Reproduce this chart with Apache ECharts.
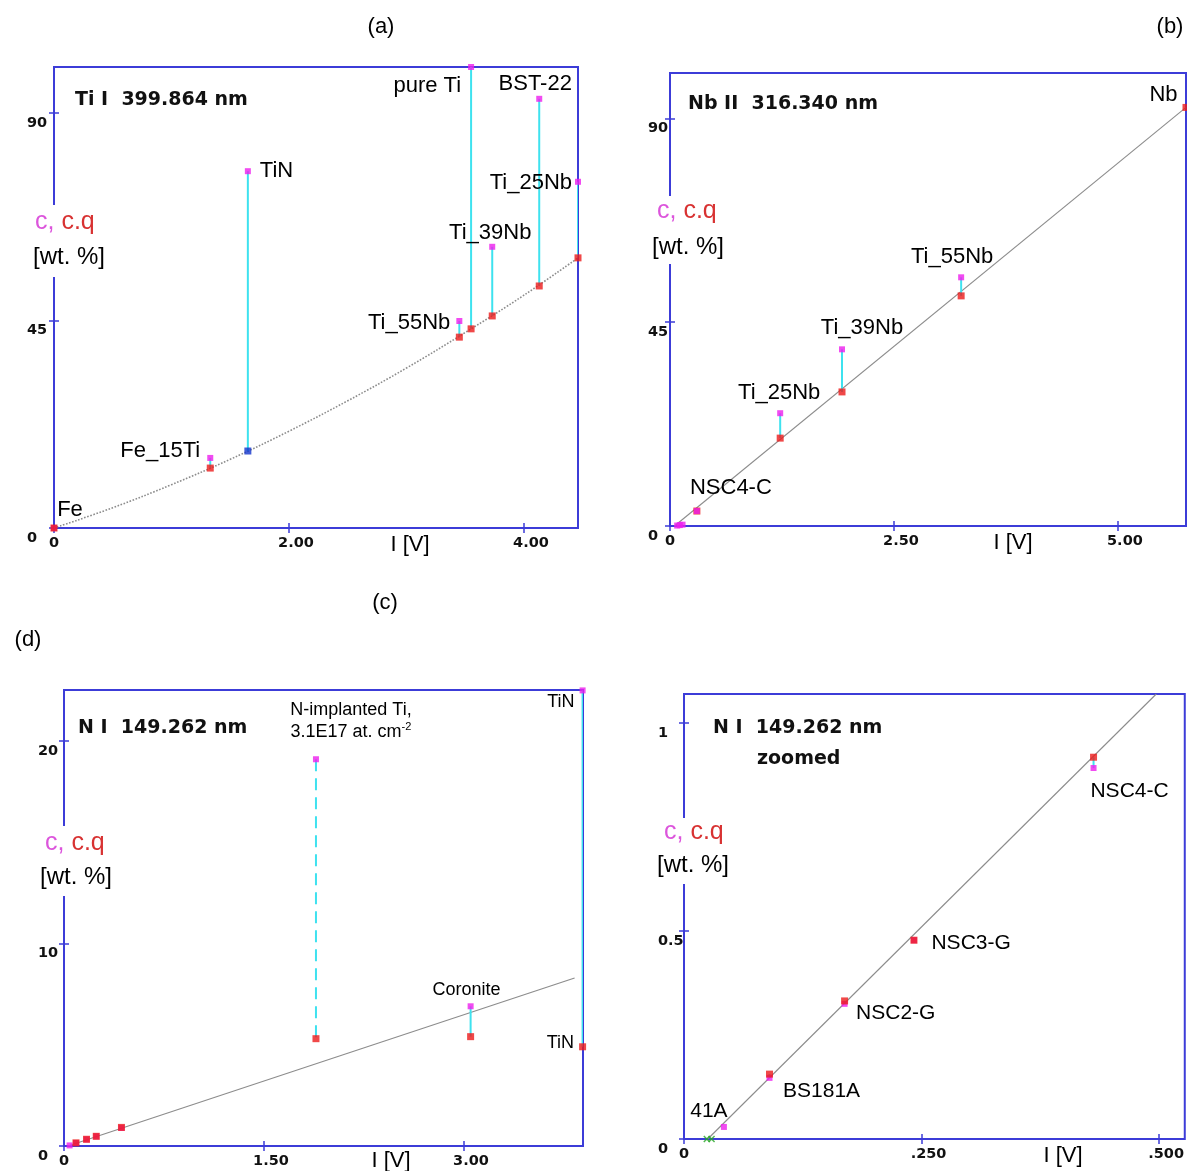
<!DOCTYPE html>
<html>
<head>
<meta charset="utf-8">
<script src="https://cdn.jsdelivr.net/npm/echarts@6/dist/echarts.min.js"></script>
<style>
  html, body { margin: 0; padding: 0; background: #fff; }
  #chart { width: 1187px; height: 1171px; }
</style>
</head>
<body>
<div id="chart"></div>
<script>
// ---- (a) Ti I 399.864 nm ----
const tiSamples    = ['Fe', 'Fe_15Ti', 'TiN', 'Ti_55Nb', 'pure Ti', 'Ti_39Nb', 'BST-22', 'Ti_25Nb'];
const tiIntensity  = [0, 1.33, 1.65, 3.45, 3.55, 3.73, 4.13, 4.46];
const tiCertified  = [0, 15.2, 77.4, 44.9, 100, 61.0, 93.1, 75.1];
const tiCalculated = [0, 13.0, 16.7, 41.4, 43.2, 46.0, 52.5, 58.6];
const tiExcluded   = ['TiN'];
const tiCurveI     = [0, 0.5, 1.0, 1.5, 2.0, 2.5, 3.0, 3.5, 4.0, 4.46];
const tiCurveC     = [0, 4.4, 9.4, 14.9, 21.0, 27.6, 34.7, 42.4, 50.5, 58.6];
const tiXTicks     = [0, 2, 4];
const tiYTicks     = [0, 45, 90];

// ---- (b) Nb II 316.340 nm ----
const nbSamples    = ['NSC4-C', 'Ti_25Nb', 'Ti_39Nb', 'Ti_55Nb', 'Nb'];
const nbIntensity  = [0.30, 1.23, 1.92, 3.25, 5.76];
const nbCertified  = [3.3, 24.9, 39.0, 54.9, null];
const nbCalculated = [3.3, 19.4, 29.6, 50.8, 92.4];
const nbTraceI     = [0.08, 0.11, 0.14];
const nbTraceC     = [0.1, 0.2, 0.3];
const nbLineI      = [0.05, 5.76];
const nbLineC      = [0, 92.4];
const nbXTicks     = [0, 2.5, 5];
const nbYTicks     = [0, 45, 90];

// ---- (c) N I 149.262 nm, (d) same line zoomed ----
const nSamples     = ['41A', 'BS181A', 'NSC2-G', 'NSC3-G', 'NSC4-C', 'N-implanted Ti', 'Coronite', 'TiN'];
const nIntensity   = [0.042, 0.090, 0.169, 0.242, 0.431, 1.89, 3.05, 3.89];
const nCertified   = [0.029, 0.147, 0.325, 0.478, 0.892, 19.1, 6.9, 22.5];
const nCalculated  = [null, 0.156, 0.332, 0.478, 0.918, 5.3, 5.4, 4.9];
const nDashed      = ['N-implanted Ti'];
const nLineI       = [0.03, 3.83];
const nLineC       = [0, 8.3];
const nXTicks      = [0, 1.5, 3];
const nYTicks      = [0, 10, 20];
const nzCount      = 5;             // standards inside the zoomed window
const nzBlankI     = [0.024, 0.029];
const nzBlankC     = [0, 0];
const nzLineI      = [0.025, 0.497];
const nzLineC      = [0, 1.07];
const nzXTicks     = [0, 0.25, 0.5];
const nzYTicks     = [0, 0.5, 1];

// label placement: [sample, anchor, position, dx, dy]
const tiLabels = [
  ['Fe', 'cq', 'top', 16, 1],
  ['Fe_15Ti', 'c', 'left', -2, -7],
  ['TiN', 'c', 'right', 4, 0],
  ['Ti_55Nb', 'c', 'left', -1, 2],
  ['pure Ti', 'c', 'left', -2, 19],
  ['Ti_39Nb', 'c', 'top', -2, 5],
  ['BST-22', 'c', 'top', -4, 4],
  ['Ti_25Nb', 'c', 'left', 2, 1]
];
const nbLabels = [
  ['NSC4-C', 'c', 'top', 34, -4],
  ['Ti_25Nb', 'c', 'top', -1, -1],
  ['Ti_39Nb', 'c', 'top', 20, -2],
  ['Ti_55Nb', 'c', 'top', -9, -1],
  ['Nb', 'cq', 'left', 0, -12]
];
const nLabels = [
  ['N-implanted Ti', 'c', 'top', 35, -8],
  ['Coronite', 'c', 'top', -4, 1],
  ['TiN', 'c', 'left', 0, 12],
  ['TiN', 'cq', 'left', 0, -4]
];
const nzLabels = [
  ['41A', 'c', 'top', -15, 3],
  ['BS181A', 'cq', 'right', 5, 17],
  ['NSC2-G', 'cq', 'right', 3, 12],
  ['NSC3-G', 'cq', 'right', 9, 3],
  ['NSC4-C', 'c', 'bottom', 36, 5]
];
const labelText = {
  'N-implanted Ti': '{a|N-implanted Ti,}\n{a|3.1E17 at. cm}{s|-2}'
};

const BLUE = '#3c3cd8';
const MAG = '#ee1eee';
const RED = '#ec1a1a';
const CYAN = '#3ee2ef';
const GREY = '#8c8c8c';
const MARK_BLUE = '#1233cc';
const INK = '#000000';
const TICK_FONT = '"DejaVu Sans", Verdana, sans-serif';
const TEXT_FONT = '"Liberation Sans", Arial, sans-serif';

const panels = [
  { grid: { left: 54, top: 67, width: 524, height: 461 }, xMax: 4.46, yMax: 100, dec: 2, yMargin: 27,
    xTicks: tiXTicks, yTicks: tiYTicks, samples: tiSamples, I: tiIntensity, c: tiCertified, cq: tiCalculated,
    lineI: tiCurveI, lineC: tiCurveC, lineType: 'dotted', smooth: true, labels: tiLabels, fontSize: 22,
    redOnTop: true, excluded: tiExcluded, dashed: [] },
  { grid: { left: 670, top: 73, width: 516, height: 453 }, xMax: 5.76, yMax: 100, dec: 2, yMargin: 22,
    xTicks: nbXTicks, yTicks: nbYTicks, samples: nbSamples, I: nbIntensity, c: nbCertified, cq: nbCalculated,
    lineI: nbLineI, lineC: nbLineC, lineType: 'solid', smooth: false, labels: nbLabels, fontSize: 22,
    redOnTop: false, excluded: [], dashed: [], traceI: nbTraceI, traceC: nbTraceC },
  { grid: { left: 64, top: 690, width: 519, height: 456 }, xMax: 3.893, yMax: 22.52, dec: 2, yMargin: 26,
    xTicks: nXTicks, yTicks: nYTicks, samples: nSamples, I: nIntensity, c: nCertified, cq: nCalculated,
    lineI: nLineI, lineC: nLineC, lineType: 'solid', smooth: false, labels: nLabels, fontSize: 18,
    redOnTop: true, excluded: [], dashed: nDashed },
  { grid: { left: 684, top: 694, width: 502, height: 445 }, xMax: 0.527, yMax: 1.07, dec: 3, yMargin: 26,
    xTicks: nzXTicks, yTicks: nzYTicks, samples: nSamples.slice(0, nzCount), I: nIntensity.slice(0, nzCount),
    c: nCertified.slice(0, nzCount), cq: nCalculated.slice(0, nzCount),
    lineI: nzLineI, lineC: nzLineC, lineType: 'solid', smooth: false, labels: nzLabels, fontSize: 21,
    redOnTop: true, excluded: [], dashed: [], blankI: nzBlankI, blankC: nzBlankC }
];

const grids = [], xAxes = [], yAxes = [], series = [];

function xLabelFormatter(dec) {
  return v => v === 0 ? '{z|0}' : '{n|' + v.toFixed(dec).replace(/^0\./, '.') + '}';
}

function labelFor(p, name, anchor) {
  const hit = p.labels.find(l => l[0] === name && l[1] === anchor);
  if (!hit) return undefined;
  return {
    show: true,
    position: hit[2],
    offset: [hit[3], hit[4]],
    formatter: labelText[name] || name,
    fontFamily: TEXT_FONT,
    fontSize: p.fontSize,
    color: INK,
    opacity: 1,
    rich: {
      a: { fontFamily: TEXT_FONT, fontSize: p.fontSize, lineHeight: 22, color: INK },
      s: { fontFamily: TEXT_FONT, fontSize: 11, lineHeight: 22, verticalAlign: 'top', color: INK }
    }
  };
}

panels.forEach((p, i) => {
  grids.push(Object.assign({ show: true, borderColor: BLUE, borderWidth: 2, backgroundColor: 'transparent' }, p.grid));
  const tick = { show: true, inside: true, length: 5, lineStyle: { color: BLUE, width: 1.5 } };
  const base = { type: 'value', gridIndex: i, axisLine: { show: false }, splitLine: { show: false } };
  const tickText = { fontFamily: TICK_FONT, fontWeight: 'bold', fontSize: 14.5, color: '#111' };

  xAxes.push(Object.assign({}, base, {
    position: 'bottom', min: 0, max: p.xMax,
    axisTick: Object.assign({}, tick, { customValues: p.xTicks }),
    axisLabel: Object.assign({}, tickText, {
      customValues: p.xTicks, margin: 8, formatter: xLabelFormatter(p.dec),
      rich: {
        z: Object.assign({}, tickText),
        n: Object.assign({}, tickText, { padding: [0, 0, 0, 14] })
      }
    })
  }));
  xAxes.push(Object.assign({}, base, {
    position: 'top', min: 0, max: p.xMax,
    axisTick: Object.assign({}, tick, { customValues: p.xTicks }),
    axisLabel: { show: false }
  }));
  yAxes.push(Object.assign({}, base, {
    position: 'left', min: 0, max: p.yMax,
    axisTick: Object.assign({}, tick, { customValues: p.yTicks }),
    axisLabel: Object.assign({}, tickText, {
      customValues: p.yTicks, align: 'left', margin: p.yMargin,
      verticalAlign: 'top', lineHeight: 14, padding: [3, 0, 0, 0]
    })
  }));
  yAxes.push(Object.assign({}, base, {
    position: 'right', min: 0, max: p.yMax,
    axisTick: Object.assign({}, tick, { customValues: p.yTicks }),
    axisLabel: { show: false }
  }));

  const xi = 2 * i, yi = 2 * i;

  // calibration curve / line
  series.push({
    type: 'line', xAxisIndex: xi, yAxisIndex: yi, silent: true, showSymbol: false,
    smooth: p.smooth ? 0.4 : false, z: 2,
    lineStyle: { color: GREY, width: p.lineType === 'dotted' ? 1.6 : 1.1, type: p.lineType },
    data: p.lineI.map((x, k) => [x, p.lineC[k]])
  });

  // vertical connectors between certified and calculated values
  const conn = [];
  p.samples.forEach((s, k) => {
    if (p.c[k] == null || p.cq[k] == null || p.c[k] === p.cq[k]) return;
    conn.push([p.I[k], p.c[k], p.cq[k], p.dashed.includes(s) ? 1 : 0]);
  });
  series.push({
    type: 'custom', xAxisIndex: xi, yAxisIndex: yi, silent: true, clip: true, z: 3,
    encode: { x: 0, y: [1, 2] },
    data: conn,
    renderItem: (params, api) => {
      const a = api.coord([api.value(0), api.value(1)]);
      const b = api.coord([api.value(0), api.value(2)]);
      return {
        type: 'line',
        shape: { x1: a[0], y1: a[1], x2: b[0], y2: b[1] },
        style: { stroke: CYAN, lineWidth: 2, lineDash: api.value(3) ? [12, 7] : null }
      };
    }
  });

  const cData = [], cqData = [];
  p.samples.forEach((s, k) => {
    if (p.c[k] != null) cData.push({ name: s, value: [p.I[k], p.c[k]], label: labelFor(p, s, 'c') });
    if (p.cq[k] != null) {
      const item = { name: s, value: [p.I[k], p.cq[k]], label: labelFor(p, s, 'cq') };
      if (p.excluded.includes(s)) item.itemStyle = { color: MARK_BLUE };
      cqData.push(item);
    }
  });
  if (p.traceI) p.traceI.forEach((x, k) => cData.push({ value: [x, p.traceC[k]] }));

  series.push({
    type: 'scatter', xAxisIndex: xi, yAxisIndex: yi, symbol: 'rect', symbolSize: 6,
    z: p.redOnTop ? 4 : 6, itemStyle: { color: MAG }, data: cData
  });
  series.push({
    type: 'scatter', xAxisIndex: xi, yAxisIndex: yi, symbol: 'rect', symbolSize: 7,
    z: p.redOnTop ? 6 : 4, itemStyle: { color: RED }, data: cqData
  });
  if (p.blankI) {
    series.push({
      type: 'scatter', xAxisIndex: xi, yAxisIndex: yi, z: 7,
      symbol: 'path://M0,0L10,10M10,0L0,10', symbolSize: 6,
      itemStyle: { color: 'none', borderColor: '#26a626', borderWidth: 1.5 },
      data: p.blankI.map((x, k) => [x, p.blankC[k]])
    });
  }
});

// annotation texts
function text(t, x, y, opt) {
  return {
    type: 'text', z: 20, silent: true,
    style: Object.assign({ text: t, x: x, y: y, fill: INK, fontFamily: TEXT_FONT, fontSize: 22,
      align: 'center', verticalAlign: 'middle' }, opt || {})
  };
}
function unitBlock(rx, ry, rw, rh, t1x, t1y, t2x, t2y) {
  return [
    { type: 'rect', z: 15, silent: true, shape: { x: rx, y: ry, width: rw, height: rh }, style: { fill: '#fff' } },
    text('{m|c, }{r|c.q}', t1x, t1y, {
      align: 'left', rich: {
        m: { fill: '#dc55dc', fontFamily: TEXT_FONT, fontSize: 25 },
        r: { fill: '#d83232', fontFamily: TEXT_FONT, fontSize: 25 }
      }
    }),
    text('[wt. %]', t2x, t2y, { align: 'left', fontSize: 24 })
  ];
}
const titleStyle = { align: 'left', fontFamily: TICK_FONT, fontWeight: 'bold', fontSize: 19, fill: '#111' };

const graphics = [].concat(
  unitBlock(28, 205, 86, 72, 35, 222, 33, 257),
  unitBlock(646, 196, 84, 68, 657, 211, 652, 247),
  unitBlock(36, 826, 84, 70, 45, 843, 40, 877),
  unitBlock(652, 818, 84, 66, 664, 832, 657, 865),
  [
    text('Ti I  399.864 nm', 75, 100, titleStyle),
    text('Nb II  316.340 nm', 688, 104, titleStyle),
    text('N I  149.262 nm', 78, 728, titleStyle),
    text('N I  149.262 nm', 713, 728, titleStyle),
    text('zoomed', 757, 759, titleStyle),
    text('I [V]', 410, 545),
    text('I [V]', 1013, 543),
    text('I [V]', 391, 1161),
    text('I [V]', 1063, 1156),
    text('(a)', 381, 27),
    text('(b)', 1170, 27),
    text('(c)', 385, 603),
    text('(d)', 28, 640)
  ]
);

const chart = echarts.init(document.getElementById('chart'), null, { renderer: 'canvas' });
chart.setOption({
  animation: false,
  backgroundColor: '#ffffff',
  grid: grids,
  xAxis: xAxes,
  yAxis: yAxes,
  series: series,
  graphic: graphics
});
</script>
</body>
</html>
